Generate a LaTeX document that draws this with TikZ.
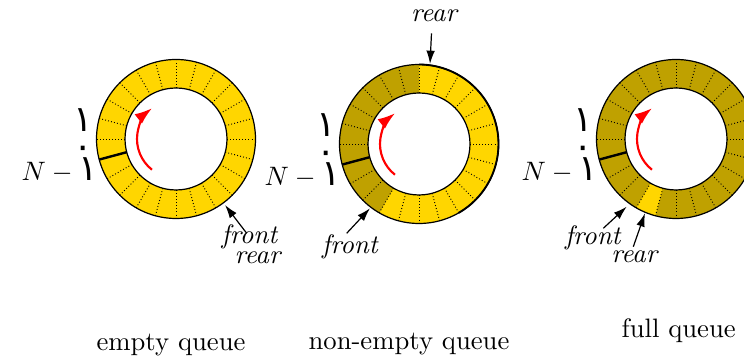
\documentclass[tikz,border=0pt]{standalone}
\usepackage{fontspec}
\newfontfamily\arabicfont[Script=Arabic,Scale=1.35]{DejaVu Sans}
\usetikzlibrary{arrows.meta,calc}
\definecolor{ringlight}{RGB}{255,214,0}
\definecolor{ringdark}{RGB}{191,161,0}
\tikzset{
  outline/.style={line width=0.45pt},
  cellsep/.style={line width=0.35pt,dash pattern=on 0.35pt off 0.8pt},
  zeroline/.style={line width=0.9pt},
  ptr/.style={line width=0.45pt,-{Latex[length=5pt,width=3.2pt]}},
  dirarrow/.style={red,line width=0.8pt,-{Latex[length=6.5pt,width=4.5pt]}},
  ptrlabel/.style={font=\itshape,inner sep=0pt,anchor=base},
  caption/.style={inner sep=0pt,anchor=base},
  idx/.style={inner sep=0pt},
}
\newcommand{\ringcells}[1]{%
  \foreach \a in {0,15,...,345}{%
    \ifnum\a=195\relax\else
      \draw[cellsep] ($(#1)+(\a:51)$) -- ($(#1)+(\a:79.5)$);
    \fi}
  \draw[zeroline] ($(#1)+(195:51)$) -- ($(#1)+(195:79.5)$);
  \draw[outline] (#1) circle[radius=79.5] (#1) circle[radius=51];
  \draw[dirarrow] ($(#1)+(232:39)$) arc[start angle=232,end angle=128,radius=39];
}
\newcommand{\ringindices}[2]{%
  \node[idx,anchor=base] (#2one) at ($(#1)+(-92.5,7)$) {\arabicfont ١};
  \node[idx] (#2zero) at ($(#1)+(-93.3,-13.5)$) {\arabicfont ٠};
  \node[idx,anchor=base west] (#2last) at ($(#1)+(-155,-42)$) {$N-\hbox{\arabicfont ١}$};
}
\begin{document}
\begin{tikzpicture}[x=0.375pt,y=0.375pt]
\useasboundingbox (0,0) rectangle (744,362);
\coordinate (c1) at (176,223);
\coordinate (c2) at (419,218);
\coordinate (c3) at (676,223);

% ring 1: empty queue
\fill[ringlight,even odd rule] (c1) circle[radius=79.5] (c1) circle[radius=51];
\ringcells{c1}
\ringindices{c1}{a}

% ring 2: non-empty queue
\fill[ringlight,even odd rule] (c2) circle[radius=79.5] (c2) circle[radius=51];
\fill[ringdark] ($(c2)+(90:51)$) arc[start angle=90,end angle=240,radius=51]
  -- ($(c2)+(240:79.5)$) arc[start angle=240,end angle=90,radius=79.5] -- cycle;
\ringcells{c2}
\draw[line width=0.7pt] ($(c2)+(90:79.5)$) arc[start angle=90,end angle=-60,radius=79.5];
\ringindices{c2}{b}

% ring 3: full queue
\fill[ringdark,even odd rule] (c3) circle[radius=79.5] (c3) circle[radius=51];
\fill[ringlight] ($(c3)+(240:51)$) arc[start angle=240,end angle=255,radius=51]
  -- ($(c3)+(255:79.5)$) arc[start angle=255,end angle=240,radius=79.5] -- cycle;
\ringcells{c3}
\ringindices{c3}{c}

% pointers ring 1
\node[ptrlabel] (front1) at (249.5,118.7) {front};
\node[ptrlabel] (rear1) at (257.5,98.7) {rear};
\coordinate (f1tail) at (246.7,128.7);
\coordinate (f1tip) at (225,157);
\draw[ptr] (f1tail) -- (f1tip);

% pointers ring 2
\node[ptrlabel] (rear2) at (434,340.3) {rear};
\coordinate (r2tail) at (431.5,328.7);
\coordinate (r2tip) at (430,298);
\draw[ptr] (r2tail) -- (r2tip);
\node[ptrlabel] (front2) at (350,108.7) {front};
\coordinate (f2tail) at (346.7,128.7);
\coordinate (f2tip) at (370,153.7);
\draw[ptr] (f2tail) -- (f2tip);

% pointers ring 3
\node[ptrlabel] (front3) at (592.8,117) {front};
\coordinate (f3tail) at (603.3,133.7);
\coordinate (f3tip) at (626.7,155.3);
\draw[ptr] (f3tail) -- (f3tip);
\node[ptrlabel] (rear3) at (634.2,99.5) {rear};
\coordinate (r3tail) at (633.3,115.3);
\coordinate (r3tip) at (645,148.7);
\draw[ptr] (r3tail) -- (r3tip);

% captions
\node[caption] (cap1) at (171,11.3) {empty queue};
\node[caption] (cap2) at (409,12) {non-empty queue};
\node[caption] (cap3) at (678.7,24.7) {full queue};
\end{tikzpicture}
\end{document}
